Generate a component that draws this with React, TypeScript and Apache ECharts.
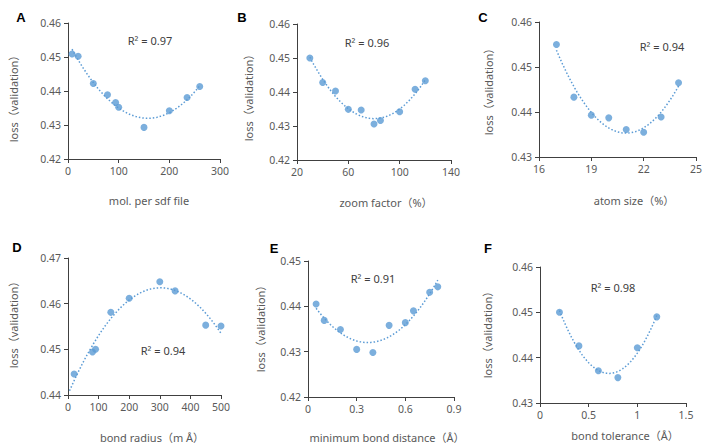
import React, { useEffect, useRef } from "react";
import * as echarts from "echarts";

// ---- Data ----
const xA = [8, 20, 50, 78, 94, 100, 150, 200, 235, 260];
const yA = [0.4509, 0.4502, 0.4422, 0.4389, 0.4366, 0.4352, 0.4293, 0.4342, 0.4381, 0.4413];
const xB = [30, 40, 50, 60, 70, 80, 85, 100, 112, 120];
const yB = [0.45, 0.4428, 0.4403, 0.4349, 0.4347, 0.4306, 0.4316, 0.4342, 0.4408, 0.4433];
const xC = [17, 18, 19, 20, 21, 22, 23, 24];
const yC = [0.455, 0.4433, 0.4393, 0.4387, 0.4361, 0.4355, 0.4389, 0.4465];
const xD = [20, 80, 90, 140, 200, 300, 350, 450, 500];
const yD = [0.4446, 0.4494, 0.45, 0.4581, 0.4612, 0.4648, 0.4628, 0.4553, 0.4551];
const xE = [0.05, 0.1, 0.2, 0.3, 0.4, 0.5, 0.6, 0.65, 0.75, 0.8];
const yE = [0.4405, 0.4369, 0.4349, 0.4305, 0.4298, 0.4358, 0.4364, 0.439, 0.4431, 0.4443];
const xF = [0.2, 0.4, 0.6, 0.8, 1.0, 1.2];
const yF = [0.45, 0.4426, 0.4371, 0.4356, 0.4422, 0.449];

const panelLabels = ["A", "B", "C", "D", "E", "F"];
const xTitles = [
  "mol. per sdf file",
  "zoom factor（%）",
  "atom size（%）",
  "bond radius（m Å）",
  "minimum bond distance（Å）",
  "bond tolerance（Å）",
];
const yTitle = "loss（validation）";
const r2Labels = ["R² = 0.97", "R² = 0.96", "R² = 0.94", "R² = 0.94", "R² = 0.91", "R² = 0.98"];

// ---- layout ----
const grids = [
  { left: 68, top: 23, width: 152, height: 136 },
  { left: 297, top: 24, width: 154, height: 136 },
  { left: 539, top: 22, width: 157, height: 135 },
  { left: 68, top: 258, width: 153, height: 137 },
  { left: 308, top: 261, width: 146, height: 136 },
  { left: 540, top: 267, width: 146, height: 136 },
];
const xAxes = [
  { min: 0, max: 300, interval: 100 },
  { min: 20, max: 140, interval: 40 },
  { min: 16, max: 25, interval: 3 },
  { min: 0, max: 500, interval: 100 },
  { min: 0, max: 0.9, interval: 0.3 },
  { min: 0, max: 1.5, interval: 0.5 },
];
const yAxes = [
  { min: 0.42, max: 0.46 },
  { min: 0.42, max: 0.46 },
  { min: 0.43, max: 0.46 },
  { min: 0.44, max: 0.47 },
  { min: 0.42, max: 0.45 },
  { min: 0.43, max: 0.46 },
];
const trendRange = [
  [8, 260],
  [30, 120],
  [17, 24],
  [5, 500],
  [0.05, 0.8],
  [0.2, 1.2],
];
const labelPos = [
  [21, 17], [242, 17], [483, 17], [17, 247], [274, 248], [488, 248],
];
const yTitlePos = [
  [13, 96], [248, 95], [488, 89], [13, 322], [260, 326], [487, 332],
];
const xTitlePos = [
  [149, 200], [386, 202], [634, 200], [152, 437], [387, 437], [625, 435],
];
const r2Pos = [
  [150, 40], [367, 42], [662, 46], [163, 350], [373, 278], [613, 287],
];

const datasets = [
  [xA, yA], [xB, yB], [xC, yC], [xD, yD], [xE, yE], [xF, yF],
];

// quadratic least-squares fit (like a spreadsheet polynomial trendline)
function quadFit(xs: number[], ys: number[]) {
  const n = xs.length;
  let s0 = n, s1 = 0, s2 = 0, s3 = 0, s4 = 0, t0 = 0, t1 = 0, t2 = 0;
  for (let i = 0; i < n; i++) {
    const x = xs[i], y = ys[i];
    s1 += x; s2 += x * x; s3 += x * x * x; s4 += x * x * x * x;
    t0 += y; t1 += x * y; t2 += x * x * y;
  }
  const M = [
    [s0, s1, s2, t0],
    [s1, s2, s3, t1],
    [s2, s3, s4, t2],
  ];
  for (let c = 0; c < 3; c++) {
    let p = c;
    for (let r = c + 1; r < 3; r++) if (Math.abs(M[r][c]) > Math.abs(M[p][c])) p = r;
    [M[c], M[p]] = [M[p], M[c]];
    for (let r = 0; r < 3; r++) {
      if (r === c) continue;
      const f = M[r][c] / M[c][c];
      for (let k = c; k < 4; k++) M[r][k] -= f * M[c][k];
    }
  }
  const a = M[0][3] / M[0][0], b = M[1][3] / M[1][1], cc = M[2][3] / M[2][2];
  return (x: number) => a + b * x + cc * x * x;
}

const BLUE = "#5B9BD5";
const FONT = "'Noto Sans', 'Noto Sans CJK KR', sans-serif";

export default function App() {
  const ref = useRef<HTMLDivElement>(null);
  useEffect(() => {
    if (!ref.current) return;
    const chart = echarts.init(ref.current, undefined, { renderer: "svg" });
    const series: any[] = [];
    datasets.forEach(([xs, ys], i) => {
      series.push({
        type: "scatter",
        xAxisIndex: i,
        yAxisIndex: i,
        symbolSize: 7,
        itemStyle: { color: BLUE },
        data: xs.map((x, j) => [x, ys[j]]),
        z: 3,
      });
      const f = quadFit(xs, ys);
      const [lo, hi] = trendRange[i];
      const pts: number[][] = [];
      const N = 60;
      for (let k = 0; k <= N; k++) {
        const x = lo + ((hi - lo) * k) / N;
        pts.push([x, f(x)]);
      }
      series.push({
        type: "line",
        xAxisIndex: i,
        yAxisIndex: i,
        showSymbol: false,
        symbol: "none",
        data: pts,
        lineStyle: { color: BLUE, width: 1.5, type: [1.5, 2] },
        z: 2,
      });
    });
    const axisLine = { show: true, lineStyle: { color: "#404040", width: 1 } };
    const axisTick = { show: true, inside: false, length: 4, lineStyle: { color: "#404040" } };
    const graphic: any[] = [];
    panelLabels.forEach((t, i) => {
      graphic.push({
        type: "text", x: labelPos[i][0], y: labelPos[i][1],
        style: { text: t, font: `bold 13px Arial, 'Liberation Sans', sans-serif`, fill: "#000", align: "center", verticalAlign: "middle" },
      });
      graphic.push({
        type: "text", x: yTitlePos[i][0], y: yTitlePos[i][1], rotation: Math.PI / 2,
        style: { text: yTitle, font: `11px ${FONT}`, fill: "#595959", align: "center", verticalAlign: "middle" },
      });
      graphic.push({
        type: "text", x: xTitlePos[i][0], y: xTitlePos[i][1],
        style: { text: xTitles[i], font: `11px ${FONT}`, fill: "#595959", align: "center", verticalAlign: "middle" },
      });
      graphic.push({
        type: "text", x: r2Pos[i][0], y: r2Pos[i][1],
        style: { text: r2Labels[i], font: `11px ${FONT}`, fill: "#404040", align: "center", verticalAlign: "middle" },
      });
    });
    chart.setOption({
      animation: false,
      backgroundColor: "#ffffff",
      grid: grids.map((g) => ({ ...g, containLabel: false })),
      xAxis: xAxes.map((a, i) => ({
        type: "value",
        gridIndex: i,
        min: a.min,
        max: a.max,
        interval: a.interval,
        axisLine,
        axisTick,
        splitLine: { show: false },
        axisLabel: {
          color: "#595959",
          fontSize: 10.5,
          fontFamily: FONT,
          margin: 7,
          formatter: (v: number) => String(+v.toFixed(2)),
        },
      })),
      yAxis: yAxes.map((a, i) => ({
        type: "value",
        gridIndex: i,
        min: a.min,
        max: a.max,
        interval: 0.01,
        axisLine,
        axisTick,
        splitLine: { show: false },
        axisLabel: {
          color: "#595959",
          fontSize: 10.5,
          fontFamily: FONT,
          margin: 7,
          formatter: (v: number) => v.toFixed(2),
        },
      })),
      series,
      graphic,
    });
    return () => chart.dispose();
  }, []);
  return (
    <div
      ref={ref}
      style={{ position: "absolute", left: 0, top: 0, width: 708, height: 447 }}
    />
  );
}
